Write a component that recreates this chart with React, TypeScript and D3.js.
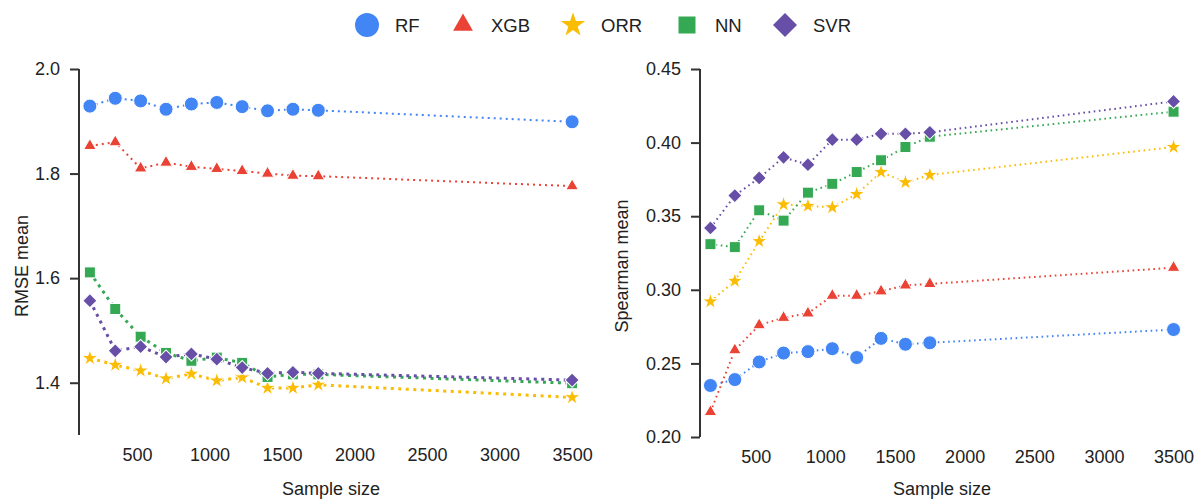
import React, { useRef, useEffect } from "react";
import * as d3 from "d3";

// Sample sizes shared by both panels
const sampleSizes = [175, 350, 525, 700, 875, 1050, 1225, 1400, 1575, 1750, 3500];
const modelNames = ["RF", "XGB", "ORR", "NN", "SVR"];
const xTicks = [500, 1000, 1500, 2000, 2500, 3000, 3500];

// RMSE mean per model
const rmseRF = [1.929, 1.944, 1.939, 1.923, 1.933, 1.936, 1.928, 1.92, 1.923, 1.921, 1.899];
const rmseXGB = [1.853, 1.86, 1.81, 1.821, 1.813, 1.809, 1.805, 1.8, 1.796, 1.795, 1.776];
const rmseORR = [1.447, 1.434, 1.423, 1.408, 1.417, 1.404, 1.41, 1.39, 1.39, 1.396, 1.372];
const rmseNN = [1.611, 1.541, 1.488, 1.457, 1.442, 1.448, 1.438, 1.411, 1.416, 1.416, 1.399];
const rmseSVR = [1.557, 1.461, 1.469, 1.449, 1.455, 1.445, 1.429, 1.418, 1.42, 1.418, 1.405];
const rmseTicks = [1.4, 1.6, 1.8, 2.0];

// Spearman mean per model
const spRF = [0.235, 0.239, 0.251, 0.257, 0.258, 0.26, 0.254, 0.267, 0.263, 0.264, 0.273];
const spXGB = [0.217, 0.259, 0.276, 0.281, 0.284, 0.296, 0.296, 0.299, 0.303, 0.304, 0.315];
const spORR = [0.292, 0.306, 0.333, 0.358, 0.357, 0.356, 0.365, 0.38, 0.373, 0.378, 0.397];
const spNN = [0.331, 0.329, 0.354, 0.347, 0.366, 0.372, 0.38, 0.388, 0.397, 0.404, 0.421];
const spSVR = [0.342, 0.364, 0.376, 0.39, 0.385, 0.402, 0.402, 0.406, 0.406, 0.407, 0.428];
const spTicks = [0.2, 0.25, 0.3, 0.35, 0.4, 0.45];

const colors = ["#4285f4", "#ea4335", "#fbbc04", "#34a853", "#674ea7"];
const FONT = "'Liberation Sans', Arial, sans-serif";

function markerPath(i: number, big: boolean) {
  const s = big
    ? [452, 170, 185, 289, 288][i]
    : [154, 68, 82, 121, 100][i];
  const types = [d3.symbolCircle, d3.symbolTriangle, d3.symbolStar, d3.symbolSquare, d3.symbolSquare];
  return d3.symbol().type(types[i]).size(s)() as string;
}

export default function App() {
  const ref = useRef<SVGSVGElement>(null);

  useEffect(() => {
    const svg = d3.select(ref.current);
    svg.selectAll("*").remove();
    svg.style("font-family", FONT);

    // Legend
    const legX = [367, 463, 573, 687, 785];
    modelNames.forEach((name, i) => {
      svg
        .append("path")
        .attr("d", markerPath(i, true))
        .attr("transform", `translate(${legX[i]},25)${i === 4 ? " rotate(45)" : ""}`)
        .attr("fill", colors[i]);
      svg
        .append("text")
        .attr("x", legX[i] + 28)
        .attr("y", 31.5)
        .attr("font-size", 18.5)
        .attr("fill", "#222")
        .text(name);
    });

    const panels = [
      {
        series: [rmseRF, rmseXGB, rmseORR, rmseNN, rmseSVR],
        yDomain: [1.3, 2.0],
        yRange: [435, 69],
        xRange: [79, 583],
        ticks: rmseTicks,
        fmt: d3.format(".1f"),
        title: "RMSE mean",
        titleX: 22,
        widths: [2, 2, 3, 3, 3],
        dashes: ["2 4", "2 4", "3 4.5", "3 4.5", "3 4.5"],
      },
      {
        series: [spRF, spXGB, spORR, spNN, spSVR],
        yDomain: [0.2, 0.45],
        yRange: [437, 69],
        xRange: [700, 1184],
        ticks: spTicks,
        fmt: d3.format(".2f"),
        title: "Spearman mean",
        titleX: 622,
        widths: [2, 2, 2, 2, 2],
        dashes: ["1.6 3.6", "1.6 3.6", "1.6 3.6", "1.6 3.6", "1.6 3.6"],
      },
    ];

    panels.forEach((p) => {
      const x = d3.scaleLinear().domain([100, 3575]).range(p.xRange);
      const y = d3.scaleLinear().domain(p.yDomain).range(p.yRange);
      const g = svg.append("g");

      // Y axis
      const yAxis = g
        .append("g")
        .attr("transform", `translate(${p.xRange[0]},0)`)
        .call(d3.axisLeft(y).tickValues(p.ticks).tickFormat(p.fmt as any).tickSize(9).tickPadding(10));
      yAxis.select(".domain").attr("stroke", "#333").attr("stroke-width", 2).attr("d", `M0,${p.yRange[1]}V${p.yRange[0]}`);
      yAxis.selectAll(".tick line").attr("stroke", "#333").attr("stroke-width", 2);
      yAxis.selectAll(".tick text").attr("font-size", 18).attr("fill", "#222").attr("font-family", FONT);

      // X axis (labels only)
      const xAxis = g
        .append("g")
        .attr("transform", `translate(0,${p.yRange[0]})`)
        .call(d3.axisBottom(x).tickValues(xTicks).tickFormat(d3.format("d") as any).tickSize(0).tickPadding(13));
      xAxis.select(".domain").remove();
      xAxis.selectAll(".tick text").attr("font-size", 18).attr("fill", "#222").attr("font-family", FONT);

      // Titles
      g.append("text")
        .attr("x", (p.xRange[0] + p.xRange[1]) / 2)
        .attr("y", 495)
        .attr("text-anchor", "middle")
        .attr("font-size", 18)
        .attr("fill", "#222")
        .text("Sample size");
      g.append("text")
        .attr("transform", `translate(${p.titleX},266) rotate(-90)`)
        .attr("text-anchor", "middle")
        .attr("dy", "0.35em")
        .attr("font-size", 18)
        .attr("fill", "#222")
        .text(p.title);

      // Lines
      const line = d3
        .line<number>()
        .x((_d, i) => x(sampleSizes[i]))
        .y((d) => y(d));
      p.series.forEach((s, i) => {
        g.append("path")
          .attr("d", line(s))
          .attr("fill", "none")
          .attr("stroke", colors[i])
          .attr("stroke-width", p.widths[i])
          .attr("stroke-dasharray", p.dashes[i]);
      });

      // Markers
      p.series.forEach((s, i) => {
        g.selectAll(null)
          .data(s)
          .enter()
          .append("path")
          .attr("d", markerPath(i, false))
          .attr("transform", (d, j) => `translate(${x(sampleSizes[j])},${y(d)})${i === 4 ? " rotate(45)" : ""}`)
          .attr("fill", colors[i])
          .attr("stroke", "#fff")
          .attr("stroke-width", 1);
      });
    });
  }, []);

  return (
    <svg
      ref={ref}
      width={1199}
      height={500}
      style={{ position: "absolute", left: 0, top: 0, background: "#fff" }}
    />
  );
}
